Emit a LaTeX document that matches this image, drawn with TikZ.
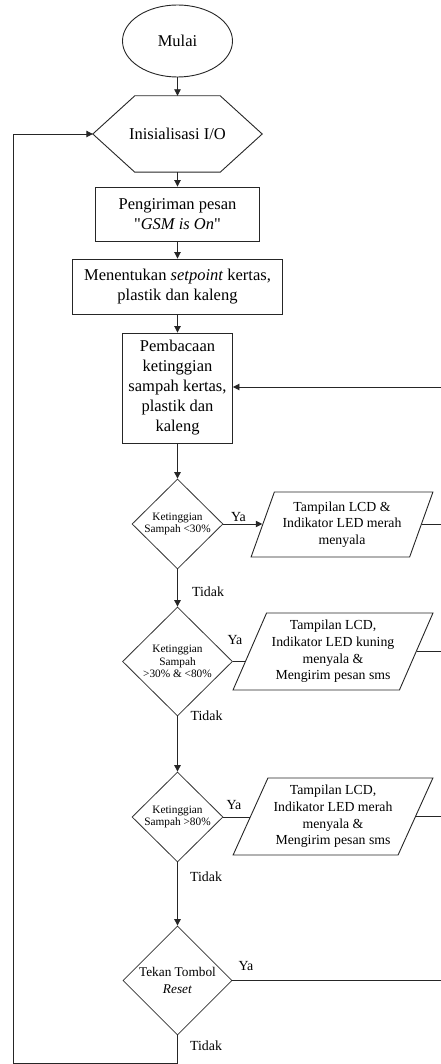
\documentclass[tikz,border=0pt]{standalone}
\usepackage{fontspec}
\setmainfont{Liberation Serif}
\newfontfamily\qfont{Liberation Serif}
\newcommand{\sq}{{\qfont"}}
\usetikzlibrary{shapes.geometric,arrows.meta,calc}
\begin{document}
\begin{tikzpicture}[x=1pt,y=-1pt,
  line/.style={draw=black!85, line width=0.9pt},
  arr/.style={line, -{Triangle[length=6.5pt,width=6.5pt]}},
  mainfs/.style={font=\fontsize{16.5}{20}\selectfont},
  box/.style={draw=black!85, line width=0.9pt, rectangle, align=center, inner sep=0pt, mainfs},
  dec/.style={draw=black!80, line width=0.8pt, diamond, align=center, inner sep=0pt, font=\fontsize{11.3}{12.3}\selectfont},
  para/.style={draw=black!85, line width=0.9pt, trapezium, trapezium stretches=true, align=center, inner sep=0pt, font=\fontsize{13.8}{16.7}\selectfont},
  lab/.style={inner sep=0pt, font=\fontsize{13.9}{16}\selectfont}
]
\useasboundingbox (0,0) rectangle (441,1064);

% nodes
\node[ellipse, draw=black!85, line width=0.9pt, minimum width=110pt, minimum height=72pt, inner sep=0pt, mainfs] (start) at (177.5,41) {Mulai};
\node[minimum width=169pt, minimum height=76pt, inner sep=0pt, mainfs] (init) at (177.5,134) {Inisialisasi I/O};
\draw[line] (init.west) -- ([xshift=42pt]init.north west) -- ([xshift=-42pt]init.north east) -- (init.east) -- ([xshift=-42pt]init.south east) -- ([xshift=42pt]init.south west) -- cycle;
\node[box, minimum width=164pt, minimum height=54pt] (gsm) at (177.5,214) {Pengiriman pesan\\\sq\textit{GSM is On}\sq};
\node[box, minimum width=210pt, minimum height=55pt] (setp) at (177.5,286.5) {Menentukan \textit{setpoint} kertas,\\plastik dan kaleng};
\node[box, minimum width=110pt, minimum height=110pt] (baca) at (177.5,388) {Pembacaan\\ketinggian\\sampah kertas,\\plastik dan\\kaleng};

\node[dec, minimum width=91pt, minimum height=90pt] (d1) at (177.5,524) {Ketinggian\\Sampah <30\%};
\node[dec, minimum width=110pt, minimum height=109pt] (d2) at (177.5,661.5) {Ketinggian\\Sampah\\>30\% \& <80\%};
\node[dec, minimum width=91pt, minimum height=90pt] (d3) at (177.5,817) {Ketinggian\\Sampah >80\%};
\node[dec, minimum width=109pt, minimum height=109pt, font=\fontsize{13.3}{16.7}\selectfont] (d4) at (177.5,980.5) {Tekan Tombol\\\textit{Reset}};

\node[para, minimum width=182pt, minimum height=65pt, trapezium left angle=66, trapezium right angle=114] (p1) at (342,524.5) {Tampilan LCD \&\\Indikator LED merah\\menyala};
\node[para, minimum width=200pt, minimum height=77pt, trapezium left angle=63.7, trapezium right angle=116.3] (p2) at (333,651.5) {Tampilan LCD,\\Indikator LED kuning\\menyala \&\\Mengirim pesan sms};
\node[para, minimum width=200pt, minimum height=77pt, trapezium left angle=63.1, trapezium right angle=116.9] (p3) at (333,816.5) {Tampilan LCD,\\Indikator LED merah\\menyala \&\\Mengirim pesan sms};

% labels
\node[lab] (ya1) at (238.5,517) {Ya};
\node[lab] (td1) at (208,592) {Tidak};
\node[lab] (ya2) at (235,640) {Ya};
\node[lab] (td2) at (206.5,716) {Tidak};
\node[lab] (ya3) at (234,805) {Ya};
\node[lab] (td3) at (206,877) {Tidak};
\node[lab] (ya4) at (246,966) {Ya};
\node[lab] (td4) at (206,1046) {Tidak};

% coordinates
\coordinate (e0) at (441,387);
\coordinate (e1) at (441,524);
\coordinate (e2) at (441,652);
\coordinate (e3) at (441,816);
\coordinate (e4) at (441,980.5);
\coordinate (loopL) at (13,1063);
\coordinate (p2in) at ($(p2.bottom left corner)!0.37!(p2.top left corner)$);

% connectors
\draw[arr] (start.south) -- (init.north);
\draw[arr] (init.south) -- (gsm.north);
\draw[arr] (gsm.south) -- (setp.north);
\draw[arr] (setp.south) -- (baca.north);
\draw[arr] (baca.south) -- (d1.north);
\draw[arr] (d1.east) -- (d1.east -| p1.west);
\draw[arr] (d1.south) -- (d2.north);
\draw[line] (d2.east) -- (d2.east -| p2in);
\draw[arr] (d2.south) -- (d3.north);
\draw[line] (d3.east) -- (d3.east -| p3.west);
\draw[arr] (d3.south) -- (d4.north);
\draw[line] (d4.east) -- (e4);
\draw[line] (p1.east) -- (p1.east -| e1);
\draw[line] (p2.east) -- (p2.east -| e2);
\draw[line] (p3.east) -- (p3.east -| e3);
\draw[arr] (e0) -- (e0 -| baca.east);
\draw[arr] (d4.south) |- (loopL) |- (init.west);
\end{tikzpicture}
\end{document}
